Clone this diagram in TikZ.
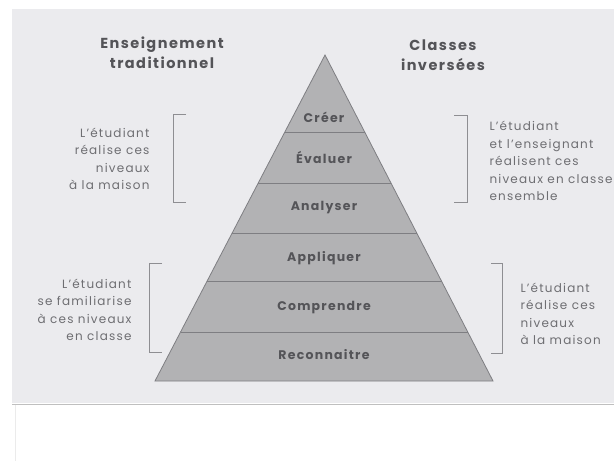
\documentclass[tikz,border=0pt]{standalone}
\usepackage{fontspec}
\setmainfont{Poppins}[LetterSpace=10]
\usetikzlibrary{positioning, calc}
\definecolor{pagegray}{HTML}{EBEBEE}
\definecolor{pyrfill}{HTML}{B2B2B4}
\definecolor{pyrline}{HTML}{7E7E82}
\definecolor{labelgray}{HTML}{545458}
\definecolor{sidegray}{HTML}{6E6E72}
\definecolor{brackgray}{HTML}{8E8E92}

\begin{document}
\begin{tikzpicture}
        [
            x=1pt, y=-1pt,
            level/.style={font=\bfseries\fontsize{12.5}{10}\selectfont, text=labelgray},
            head/.style={font=\bfseries\fontsize{14.5}{20}\selectfont,
                         text=labelgray, align=center},
            side/.style={font=\fontsize{12}{17.5}\selectfont, text=sidegray},
            bracket/.style={draw=brackgray, line width=0.9pt},
            layerline/.style={draw=pyrline, line width=0.8pt}
        ]
        \useasboundingbox (0,0) rectangle (614,461);
        % page
        \fill[white] (0,0) rectangle (614,461);
        \fill[pagegray] (12,9) rectangle (614,403);
        \draw[black!25, line width=1pt] (12,404.5) -- (614,404.5);
        \draw[black!8, line width=1pt] (15,405) -- (15,461);
        % pyramid
        \coordinate (apex) at (325,55);
        \coordinate (bl) at (155,381);
        \coordinate (br) at (493,381);
        \filldraw[fill=pyrfill, draw=pyrline, line width=0.8pt] (apex) -- (bl) -- (br) -- cycle;
        \foreach \t in {0.236,0.393,0.546,0.696,0.850}
            \draw[layerline] ($(apex)!\t!(bl)$) -- ($(apex)!\t!(br)$);
        \foreach \name/\y [count=\i] in {Créer/117,Évaluer/157,Analyser/208,
                Appliquer/258,Comprendre/308,Reconnaitre/355}
            \node[level] (lvl\i) at (324,\y) {\name};
        % headings
        \node[head] (trad) at (162,53) {Enseignement\\traditionnel};
        \node[head] (inv) at (443,55) {Classes\\inversées};
        % brackets
        \coordinate (lt1) at (173,114);
        \coordinate (lt2) at (173,202);
        \coordinate (lb1) at (149,263);
        \coordinate (lb2) at (149,352);
        \coordinate (rt1) at (467,115);
        \coordinate (rt2) at (467,202);
        \coordinate (rb1) at (502,263);
        \coordinate (rb2) at (502,353);
        \draw[bracket] ([xshift=13pt]lt1) -- (lt1) -- (lt2) -- ([xshift=13pt]lt2);
        \draw[bracket] ([xshift=13pt]lb1) -- (lb1) -- (lb2) -- ([xshift=13pt]lb2);
        \draw[bracket] ([xshift=-13pt]rt1) -- (rt1) -- (rt2) -- ([xshift=-13pt]rt2);
        \draw[bracket] ([xshift=-11pt]rb1) -- (rb1) -- (rb2) -- ([xshift=-11pt]rb2);
        % side texts
        \node[side, align=right, anchor=east] (tradhome) at (153,159)
            {L'étudiant\\réalise ces\\niveaux\\à la maison};
        \node[side, align=right, anchor=east] (tradclass) at (135,310)
            {L'étudiant\\se familiarise\\à ces niveaux\\en classe};
        \node[side, align=left, anchor=west] (invclass) at (486,161)
            {L'étudiant\\et l'enseignant\\réalisent ces\\niveaux en classe\\ensemble};
        \node[side, align=left, anchor=west] (invhome) at (517,314)
            {L'étudiant\\réalise ces\\niveaux\\à la maison};
    \end{tikzpicture}
\end{document}
